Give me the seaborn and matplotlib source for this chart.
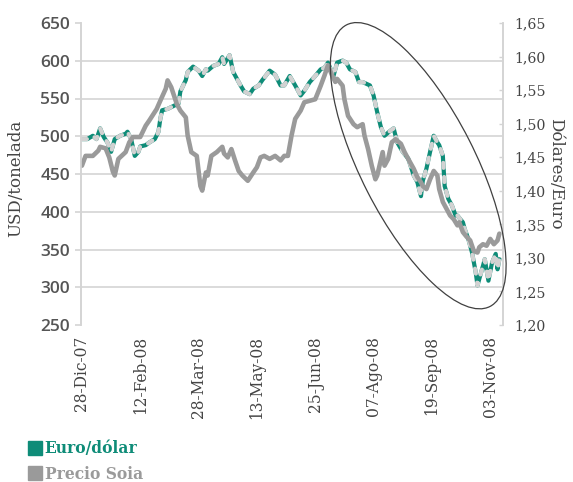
import matplotlib
matplotlib.use("Agg")
import matplotlib.pyplot as plt
import matplotlib.transforms as mtransforms
from matplotlib.patches import Ellipse
from matplotlib.lines import Line2D
from matplotlib.ticker import FixedLocator
import pandas as pd
import seaborn as sns

# ---- data (business-day index from 28-Dic-07) ----
soja_dia = [0, 2, 6, 9, 10, 13, 15, 17, 18, 20, 24, 26, 28, 32, 35, 37, 41, 43, 46, 47,
            49, 52, 54, 57, 58, 60, 63, 65, 66, 68, 69, 71, 74, 77, 78, 80, 82, 84, 86, 88,
            91, 94, 96, 98, 100, 103, 106, 109, 111, 113, 115, 117, 120, 122, 125, 128, 131, 133, 135, 137,
            139, 140, 143, 144, 146, 149, 151, 154, 155, 157, 159, 161, 162, 165, 166, 168, 170, 172, 175, 177,
            179, 182, 184, 186, 187, 189, 191, 193, 195, 196, 198, 200, 202, 204, 206, 207, 209, 211, 213, 215,
            217, 218, 220, 222, 224, 226, 228, 229]
soja_usd = [461, 474, 474, 481, 486, 484, 472, 453, 448, 470, 479, 492, 499, 499, 514, 521, 536, 547, 563, 574,
            565, 543, 534, 525, 501, 479, 474, 434, 428, 452, 448, 474, 479, 486, 477, 472, 483, 468, 454, 448,
            441, 452, 459, 472, 474, 470, 474, 468, 474, 474, 501, 523, 534, 545, 547, 549, 567, 580, 594, 582,
            572, 576, 567, 549, 527, 516, 512, 516, 501, 483, 461, 443, 448, 479, 461, 470, 492, 496, 490, 479,
            470, 457, 446, 439, 434, 430, 443, 454, 448, 430, 413, 404, 395, 390, 382, 386, 373, 367, 362, 348,
            346, 353, 357, 355, 364, 357, 362, 371]

euro_dia = [0, 3, 6, 8, 10, 12, 14, 16, 18, 21, 24, 25, 27, 29, 31, 32, 35, 37, 40, 42,
            43, 44, 47, 50, 53, 54, 57, 58, 61, 64, 66, 68, 69, 72, 75, 77, 78, 81, 83, 85,
            87, 89, 92, 94, 97, 99, 103, 106, 109, 111, 114, 117, 120, 122, 125, 128, 131, 133, 135, 138,
            140, 143, 145, 147, 150, 152, 154, 158, 160, 162, 164, 166, 169, 171, 173, 176, 179, 182, 184, 186,
            187, 189, 191, 193, 195, 196, 198, 199, 201, 203, 205, 206, 209, 210, 212, 214, 216, 217, 220, 221,
            223, 225, 227, 228, 229]
euro_usd = [1.477, 1.477, 1.482, 1.477, 1.493, 1.480, 1.472, 1.458, 1.477, 1.482, 1.485, 1.488, 1.477, 1.452, 1.458, 1.466, 1.468, 1.472, 1.477, 1.488,
            1.507, 1.520, 1.522, 1.526, 1.530, 1.548, 1.565, 1.577, 1.585, 1.579, 1.571, 1.581, 1.579, 1.586, 1.589, 1.599, 1.589, 1.602, 1.577, 1.567,
            1.557, 1.548, 1.544, 1.552, 1.557, 1.565, 1.579, 1.573, 1.557, 1.557, 1.571, 1.557, 1.542, 1.549, 1.562, 1.571, 1.581, 1.583, 1.591, 1.571,
            1.591, 1.594, 1.591, 1.581, 1.577, 1.562, 1.562, 1.557, 1.542, 1.517, 1.495, 1.482, 1.489, 1.493, 1.472, 1.458, 1.448, 1.423, 1.413, 1.392,
            1.415, 1.433, 1.458, 1.482, 1.472, 1.468, 1.452, 1.407, 1.388, 1.378, 1.363, 1.363, 1.353, 1.343, 1.328, 1.308, 1.279, 1.259, 1.288, 1.298,
            1.266, 1.293, 1.306, 1.283, 1.298]

x_ticks = [0, 32, 64, 96, 128, 160, 192, 224]
x_labels = ["28-Dic-07", "12-Feb-08", "28-Mar-08", "13-May-08", "25-Jun-08",
            "07-Ago-08", "19-Sep-08", "03-Nov-08"]
usd_ticks = [250, 300, 350, 400, 450, 500, 550, 600, 650]
eur_ticks = [1.20, 1.25, 1.30, 1.35, 1.40, 1.45, 1.50, 1.55, 1.60, 1.65]

teal = "#0e8c78"
gray = "#9a9a9a"
light = "#d2d2d2"
grid_c = "#d4d4d4"
txt = "#444444"

sns.set_style("white")
plt.rcParams["font.family"] = ["DejaVu Serif"]

fig = plt.figure(figsize=(5.73, 4.82), dpi=100)
ax = fig.add_axes([81 / 573, 1 - 325 / 482, 422 / 573, 302 / 482])
ax2 = ax.twinx()

soja = pd.DataFrame({"dia": soja_dia, "usd": soja_usd})
euro = pd.DataFrame({"dia": euro_dia, "eur": euro_usd})

# Euro/dollar on right axis (below soy)
sns.lineplot(data=euro, x="dia", y="eur", ax=ax2, color=teal, lw=3.0, sort=False,
             solid_joinstyle="round", solid_capstyle="round")
sns.lineplot(data=euro, x="dia", y="eur", ax=ax2, color=light, lw=3.0, sort=False)
ax2.lines[-1].set_linestyle((0, (1.2, 2.2)))
ax2.lines[-1].set_dash_capstyle("round")

# Soy price on left axis (on top)
sns.lineplot(data=soja, x="dia", y="usd", ax=ax, color=gray, lw=3.3, sort=False,
             solid_joinstyle="round", solid_capstyle="round")

ax.set_zorder(ax2.get_zorder() + 1)
ax.patch.set_visible(False)

# limits
ax.set_xlim(-0.5, 231)
ax.set_ylim(250, 650)
ax2.set_ylim(1.20, 1.65)

# left axis
ax.set_yticks(usd_ticks)
ax.set_yticklabels([str(v) for v in usd_ticks], fontfamily="Open Sans",
                   fontweight="semibold", fontsize=12.5, color="#555555")
ax.tick_params(axis="y", which="major", length=4, width=1.2, color=grid_c, pad=4, left=True)
ax.set_xticks(x_ticks)
ax.set_xticklabels(x_labels, rotation=90, fontsize=11.2, color=txt)
ax.tick_params(axis="x", length=0, pad=8)
ax.set_xlabel("")
ax.set_ylabel("USD/tonelada", fontsize=12, color=txt)
ax.yaxis.set_label_coords(-0.135, 0.485)

# right axis
ax2.set_yticks(eur_ticks)
ax2.set_yticklabels([f"{v:.2f}".replace(".", ",") for v in eur_ticks],
                    fontsize=10.2, color=txt)
ax2.tick_params(axis="y", which="major", length=3, width=1.0, color=grid_c,
                direction="in", pad=8, right=True)
ax2.set_ylabel("Dólares/Euro", fontsize=12, color=txt, rotation=270, va="center")
ax2.yaxis.set_label_coords(1.124, 0.50)
ax2.set_xlabel("")

# grid lines at the left-axis values, drawn behind everything
grid_r = [1.20 + (v - 250) * 0.45 / 400 for v in usd_ticks]
ax2.yaxis.set_minor_locator(FixedLocator(grid_r))
ax2.tick_params(axis="y", which="minor", length=0)
ax2.grid(which="minor", axis="y", color=grid_c, lw=1.2)
ax2.set_axisbelow(True)
ax.grid(False)

for a in (ax, ax2):
    for s in a.spines.values():
        s.set_color(grid_c)
        s.set_linewidth(1.2)
ax.spines["top"].set_visible(False)
ax2.spines["top"].set_visible(False)
ax.spines["bottom"].set_visible(False)
ax2.spines["bottom"].set_visible(False)

# ellipse annotation
trans = fig.dpi_scale_trans + mtransforms.ScaledTranslation(184.5, 461, ax.transData)
ell = Ellipse((0, 0), width=3.16, height=1.14, angle=-63.0, transform=trans,
              fill=False, ec="#404040", lw=0.9, clip_on=False, zorder=10)
fig.add_artist(ell)

# legend
handles = [Line2D([], [], marker="s", ls="", color=teal, ms=9.5),
           Line2D([], [], marker="s", ls="", color=gray, ms=9.5)]
leg = fig.legend(handles, ["Euro/dólar", "Precio Soia"], loc="upper left",
                 bbox_to_anchor=(29 / 573, 1 - 440 / 482), frameon=False,
                 handlelength=0.75, handletextpad=0.25, labelspacing=0.55,
                 borderaxespad=0, borderpad=0,
                 prop={"family": "DejaVu Serif", "weight": "bold", "size": 11.2})
for t, c in zip(leg.get_texts(), [teal, gray]):
    t.set_color(c)

fig.savefig("out.png", dpi=100)
